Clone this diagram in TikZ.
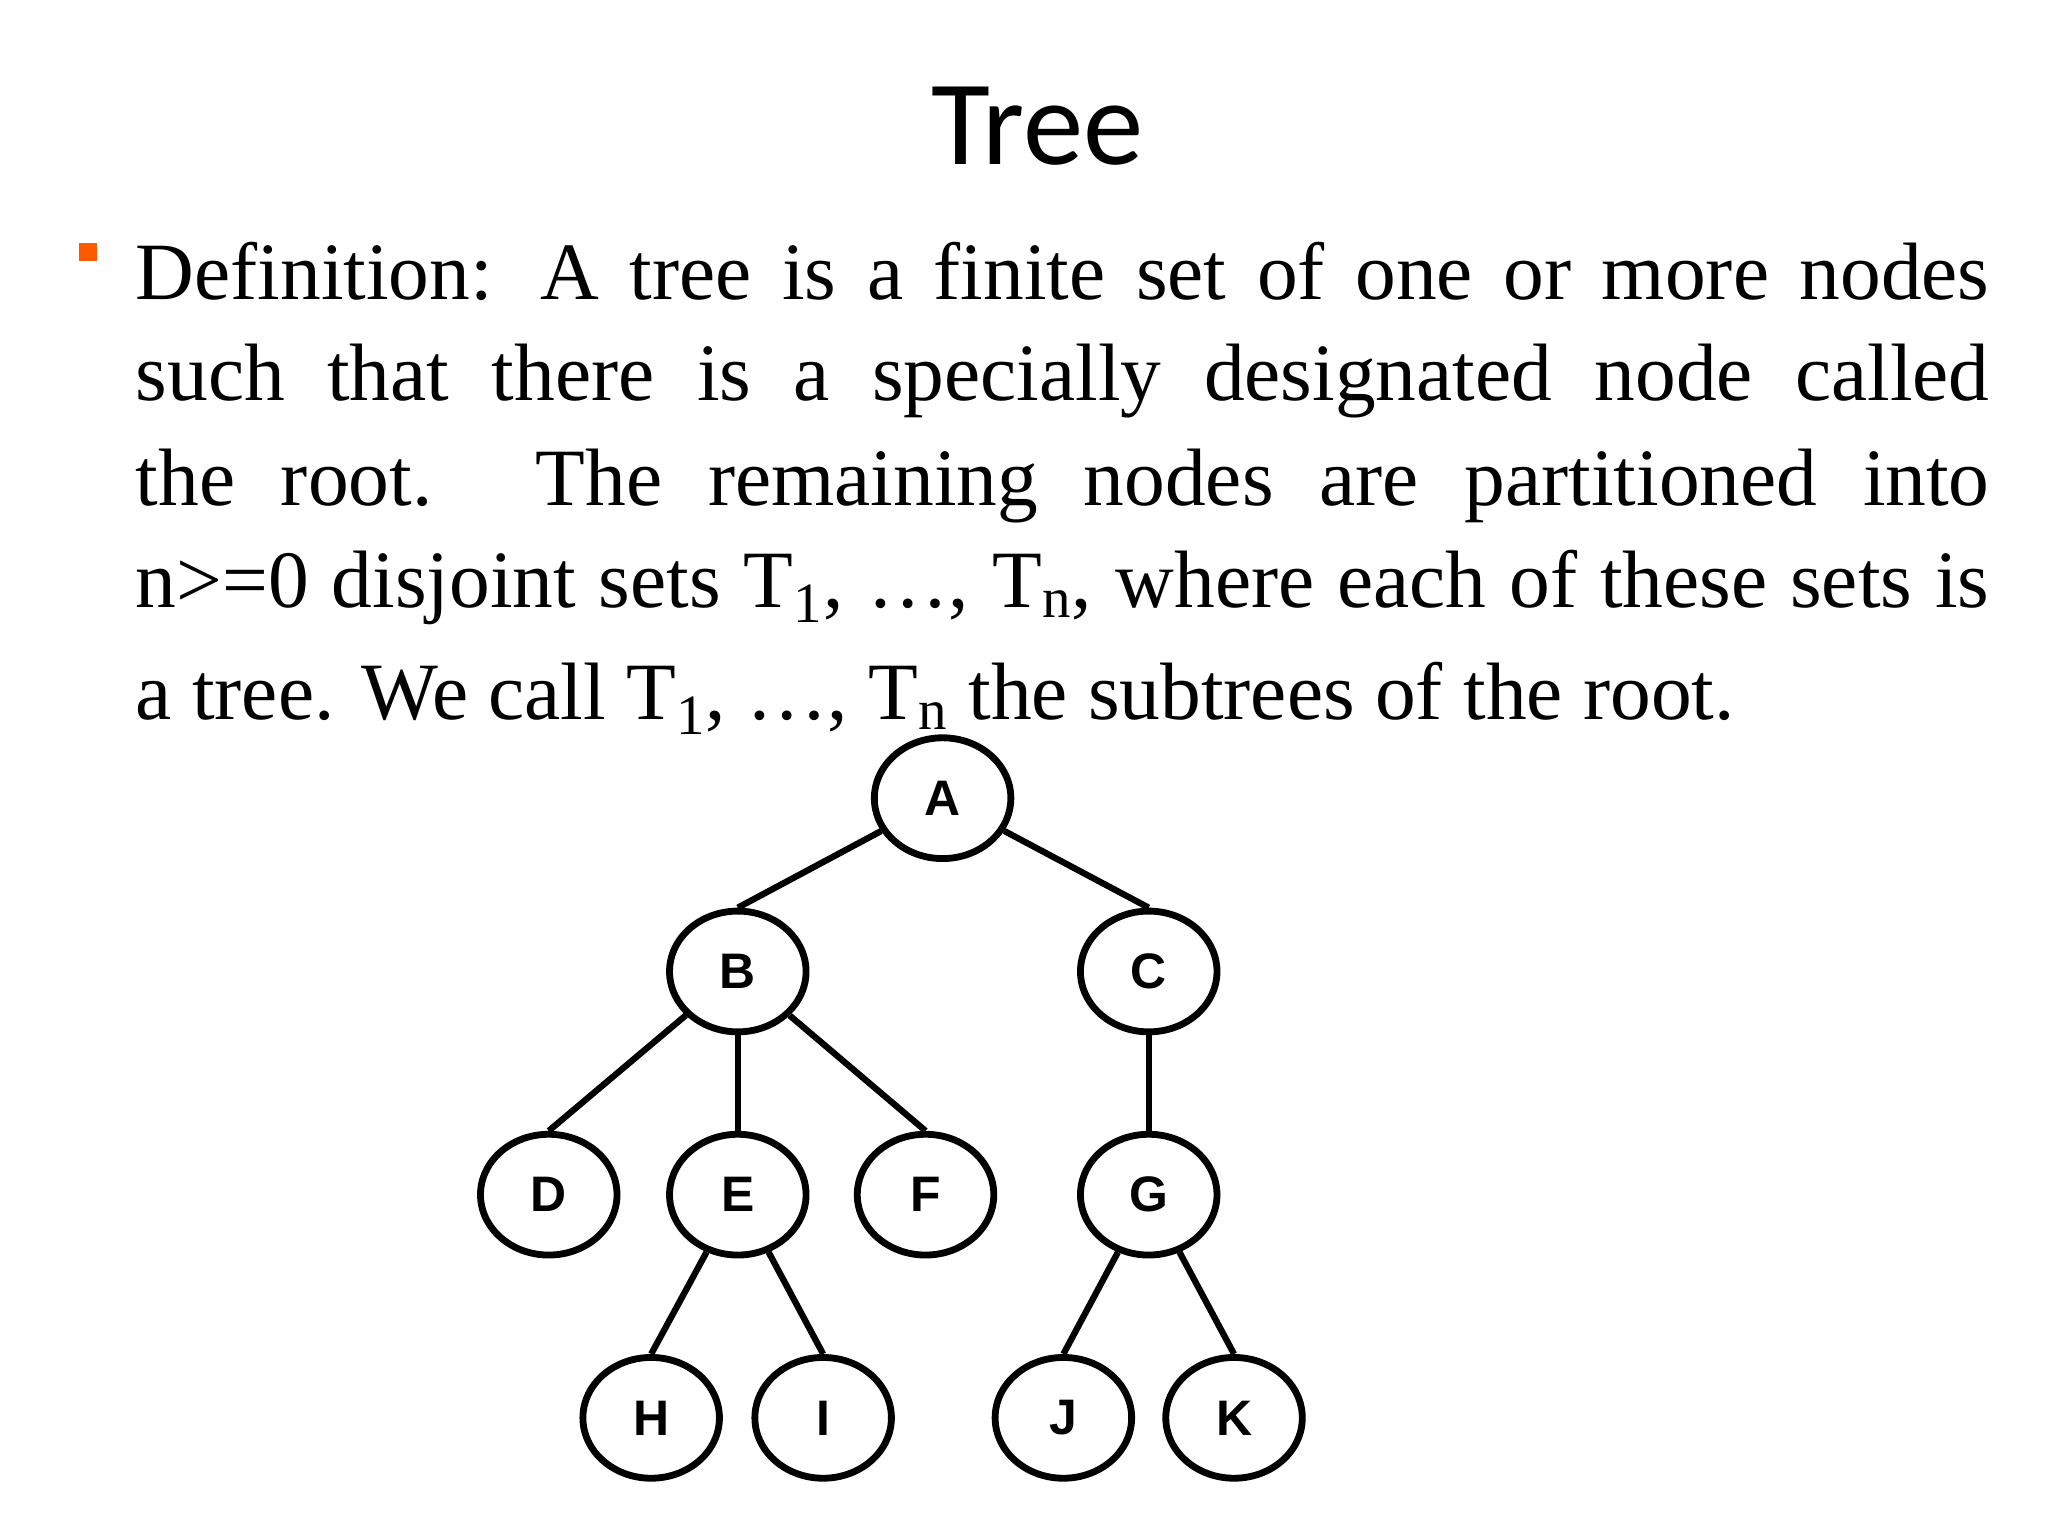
\documentclass[tikz,border=0pt]{standalone}
\usepackage{fontspec}
\setmainfont{Liberation Serif}
\newfontfamily\titlefont{Carlito}
\newfontfamily\nodefont{Liberation Sans}
\usetikzlibrary{shapes.geometric}
\newcommand{\jline}[1]{\makebox[706pt][s]{#1}}
\begin{document}
\begin{tikzpicture}[x=0.5pt,y=-0.5pt,
  tn/.style={ellipse,draw,line width=2.6pt,minimum width=52pt,minimum height=46pt,inner sep=0pt,font=\nodefont\bfseries\fontsize{19}{19}\selectfont},
  ed/.style={line width=2.4pt},
  ln/.style={anchor=base west,inner sep=0pt,font=\fontsize{31}{31}\selectfont}]
\useasboundingbox (0,0) rectangle (1560,1170);
\node[font=\titlefont\fontsize{46}{46}\selectfont,anchor=base] (title) at (790,125) {Tree};
\fill[orange!70!red] (60,185) rectangle (74,199);
\node[ln] (l1) at (103,228) {\jline{Definition: A tree is a finite set of one or more nodes}};
\node[ln] (l2) at (103,305) {\jline{such that there is a specially designated node called}};
\node[ln] (l3) at (103,385) {\jline{the root. The remaining nodes are partitioned into}};
\node[ln] (l4) at (103,463) {\jline{n>=0 disjoint sets T\textsubscript{1}, \dots, T\textsubscript{n}, where each of these sets is}};
\node[ln] (l5) at (103,548) {a tree. We call T\textsubscript{1}, \dots, T\textsubscript{n} the subtrees of the root.};
\node[tn] (A) at (718,608) {A};
\node[tn] (B) at (562,740) {B};
\node[tn] (C) at (875,740) {C};
\node[tn] (D) at (418,910) {D};
\node[tn] (E) at (562,910) {E};
\node[tn] (F) at (705,910) {F};
\node[tn] (G) at (875,910) {G};
\node[tn] (H) at (496,1080) {H};
\node[tn] (I) at (627,1080) {I};
\node[tn] (J) at (810,1080) {J};
\node[tn] (K) at (940,1080) {K};
\foreach \a/\b in {A/B,A/C,B/D,B/E,B/F,C/G,E/H,E/I,G/J,G/K} \draw[ed] (\a) -- (\b.north);
\end{tikzpicture}
\end{document}
